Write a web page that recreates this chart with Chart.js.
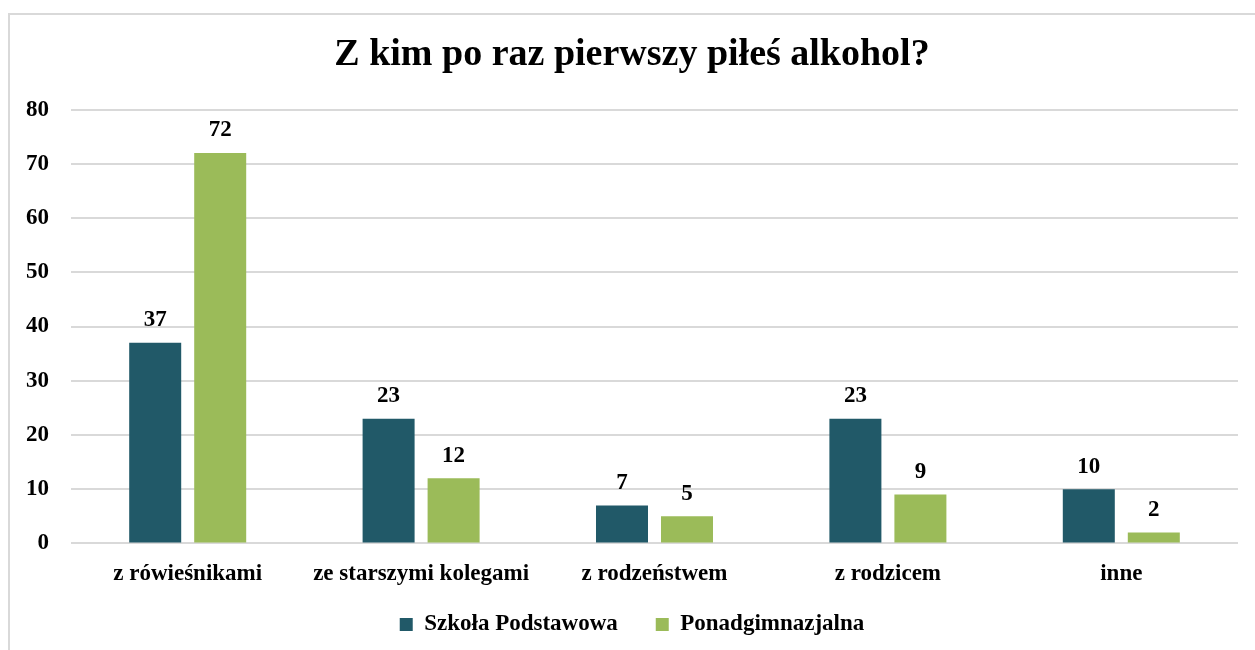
<!DOCTYPE html>
<html>
<head>
<meta charset="utf-8">
<script src="https://cdn.jsdelivr.net/npm/chart.js@4"></script>
<style>
  html, body { margin: 0; padding: 0; background: #fff; }
  #wrap { width: 1255px; height: 650px; }
</style>
</head>
<body>
<div id="wrap"><canvas id="chart" width="1255" height="650"></canvas></div>
<script>
const categories = ["z rówieśnikami", "ze starszymi kolegami", "z rodzeństwem", "z rodzicem", "inne"];
const szkolaPodstawowa = [37, 23, 7, 23, 10];
const ponadgimnazjalna = [72, 12, 5, 9, 2];
const yTicks = [0, 10, 20, 30, 40, 50, 60, 70, 80];

const FONT = "'Liberation Serif', 'Times New Roman', serif";

// light grey frame like the office chart area (top + left edge visible)
const frame = {
  id: "frame",
  beforeDraw: (chart) => {
    const ctx = chart.ctx;
    ctx.save();
    ctx.fillStyle = "#ffffff";
    ctx.fillRect(0, 0, chart.width, chart.height);
    ctx.strokeStyle = "#d9d9d9";
    ctx.lineWidth = 2;
    ctx.beginPath();
    ctx.moveTo(9, chart.height);
    ctx.lineTo(9, 14);
    ctx.lineTo(chart.width, 14);
    ctx.stroke();
    ctx.restore();
  },
};

// value labels above each bar
const valueLabels = {
  id: "valueLabels",
  afterDatasetsDraw: (chart) => {
    const ctx = chart.ctx;
    ctx.save();
    ctx.font = "bold 23px " + FONT;
    ctx.fillStyle = "#000";
    ctx.textAlign = "center";
    ctx.textBaseline = "bottom";
    chart.data.datasets.forEach((ds, i) => {
      chart.getDatasetMeta(i).data.forEach((bar, j) => {
        ctx.fillText(ds.data[j], bar.x, bar.y - 11);
      });
    });
    ctx.restore();
  },
};

new Chart(document.getElementById("chart"), {
  type: "bar",
  plugins: [frame, valueLabels],
  data: {
    labels: categories,
    datasets: [
      {
        label: "Szkoła Podstawowa",
        data: szkolaPodstawowa,
        backgroundColor: "#215968",
        categoryPercentage: 0.557,
        barPercentage: 0.8,
      },
      {
        label: "Ponadgimnazjalna",
        data: ponadgimnazjalna,
        backgroundColor: "#9bbb59",
        categoryPercentage: 0.557,
        barPercentage: 0.8,
      },
    ],
  },
  options: {
    responsive: false,
    animation: false,
    layout: { padding: { top: 22, left: 26, right: 17, bottom: 4 } },
    plugins: {
      title: {
        display: true,
        text: "Z kim po raz pierwszy piłeś alkohol?",
        color: "#000",
        font: { family: FONT, size: 38, weight: "bold" },
        padding: { top: 10, bottom: 32 },
      },
      legend: {
        position: "bottom",
        labels: {
          color: "#000",
          font: { family: FONT, size: 23, weight: "bold" },
          boxWidth: 13,
          boxHeight: 13,
          padding: 13,
          // wider gap between the two entries, like the original legend
          generateLabels: (chart) => {
            const items = Chart.defaults.plugins.legend.labels.generateLabels(chart);
            items.forEach((it, i) => {
              if (i < items.length - 1) it.text = it.text + "\u2003\u200A";
            });
            return items;
          },
        },
      },
      tooltip: { enabled: false },
    },
    scales: {
      x: {
        grid: { display: false },
        border: { display: false },
        ticks: {
          color: "#000",
          font: { family: FONT, size: 23, weight: "bold" },
          padding: 9,
        },
        afterFit: (scale) => {
          scale.paddingLeft = 0;
          scale.paddingRight = 0;
          scale.height += 3;
        },
      },
      y: {
        min: yTicks[0],
        max: yTicks[yTicks.length - 1],
        afterBuildTicks: (axis) => {
          axis.ticks = yTicks.map((v) => ({ value: v }));
        },
        afterFit: (scale) => {
          scale.width = 45;
        },
        grid: { color: "#d9d9d9", lineWidth: 2, drawTicks: false },
        border: { display: false },
        ticks: {
          color: "#000",
          font: { family: FONT, size: 23, weight: "bold" },
          padding: 22,
        },
      },
    },
  },
});
</script>
</body>
</html>
